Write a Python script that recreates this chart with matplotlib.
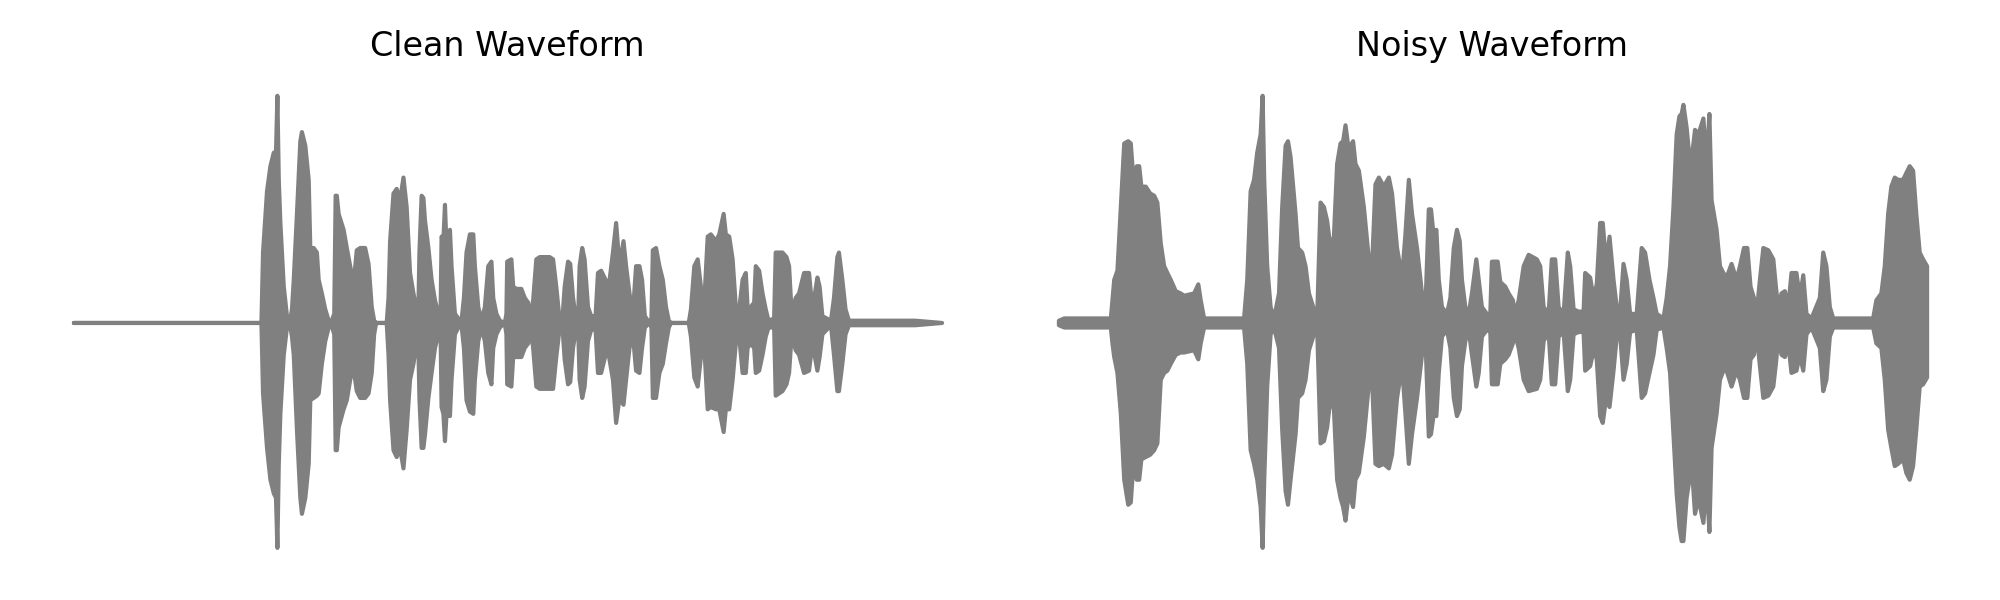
import matplotlib.pyplot as plt

# envelope of each waveform (time in s, upper / lower amplitude)
clean_t = [0.000, 0.940, 0.948, 0.968, 0.985, 1.002, 1.013, 1.020, 1.027, 1.035, 1.052, 1.068, 1.082,
           1.093, 1.102, 1.118, 1.135, 1.143, 1.160, 1.177, 1.185, 1.202, 1.218, 1.227, 1.243, 1.260, 1.277, 1.288,
           1.305, 1.312, 1.318, 1.327, 1.352, 1.368, 1.385, 1.395, 1.405, 1.418, 1.435, 1.460, 1.477, 1.493, 1.505, 1.515,
           1.568, 1.577, 1.585, 1.602, 1.618, 1.635, 1.652, 1.668, 1.685, 1.702, 1.718,
           1.727, 1.732, 1.743, 1.752, 1.760, 1.777, 1.793, 1.810, 1.827, 1.838,
           1.843, 1.852, 1.860, 1.868, 1.885, 1.893, 1.910, 1.927, 1.943,
           1.955, 1.968, 1.985, 2.002, 2.010, 2.027, 2.043,
           2.060, 2.077, 2.093, 2.102, 2.118, 2.135, 2.160,
           2.168, 2.172, 2.193, 2.202, 2.218, 2.243, 2.260, 2.277, 2.288,
           2.302, 2.318, 2.335, 2.385, 2.402, 2.418, 2.435, 2.450,
           2.460, 2.477, 2.488, 2.502, 2.518, 2.528,
           2.535, 2.548, 2.560, 2.577, 2.593, 2.615,
           2.627, 2.643, 2.665, 2.677, 2.702, 2.718, 2.735, 2.755, 2.768, 2.785, 2.802,
           2.818, 2.835, 2.848, 2.862, 2.885, 2.895,
           2.902, 2.918, 2.935, 2.952, 2.968, 2.982, 2.993,
           3.082, 3.093, 3.110, 3.127, 3.143, 3.158, 3.177, 3.193, 3.218, 3.235, 3.257, 3.268, 3.285, 3.302, 3.318, 3.335,
           3.352, 3.368, 3.377, 3.393, 3.410, 3.418, 3.435, 3.452, 3.468, 3.482, 3.510,
           3.518, 3.552, 3.572, 3.585, 3.598,
           3.618, 3.635, 3.660, 3.685, 3.702, 3.727, 3.738, 3.752, 3.795,
           3.810, 3.827, 3.835, 3.852, 3.868, 3.885, 3.968, 4.218, 4.352]
clean_hi = [0, 0, .31, .58, .69, .75, .75, 1.00, .63, .44, .16, .03, 0,
            .06, .19, .48, .80, .84, .78, .63, .33, .33, .31, .19, .13, .06, .01, 0,
            .04, .56, .56, .48, .41, .33, .25, .20, .20, .32, .33, .33, .26, .07, .01, 0,
            0, .11, .36, .57, .59, .54, .64, .51, .22, .13, .06,
            .07, .31, .56, .55, .45, .33, .19, .10, .04, .04,
            .38, .36, .52, .33, .41, .25, .04, .02, .01,
            .11, .31, .39, .39, .25, .07, .01,
            .07, .25, .27, .11, .04, .01, 0,
            .04, .27, .28, .16, .15, .15, .11, .09, .01,
            .10, .28, .29, .29, .28, .16, .01, .03,
            .16, .27, .26, .11, .01, .03,
            .25, .33, .28, .07, .03, .03,
            .22, .23, .19, .13, .31, .44, .25, .36, .25, .13, .04,
            .25, .25, .19, .03, 0, .02,
            .32, .33, .25, .19, .07, .01, 0,
            0, .06, .25, .28, .16, .06, .38, .39, .36, .39, .48, .39, .38, .28, .07, .06,
            .19, .22, .07, .07, .09, .25, .23, .13, .06, .01, .02,
            .31, .31, .29, .25, .04,
            .11, .13, .22, .22, .06, .20, .16, .03, .01,
            .11, .29, .31, .19, .06, .01, .01, .01, 0]
clean_lo = [0, 0, -.31, -.55, -.69, -.75, -.77, -.99, -.62, -.40, -.14, -.02, 0,
            -.06, -.14, -.47, -.77, -.84, -.77, -.62, -.34, -.33, -.32, -.31, -.18, -.08, -.02, 0,
            -.05, -.56, -.56, -.46, -.38, -.34, -.25, -.21, -.22, -.30, -.33, -.33, -.31, -.22, -.05, 0,
            0, -.14, -.34, -.56, -.59, -.55, -.64, -.47, -.25, -.18, -.09,
            -.11, -.33, -.55, -.55, -.49, -.33, -.22, -.11, -.05, -.04,
            -.37, -.40, -.52, -.40, -.41, -.25, -.05, -.02, -.01,
            -.11, -.34, -.39, -.40, -.25, -.08, -.02,
            -.08, -.22, -.27, -.11, -.05, -.02, 0,
            -.05, -.27, -.28, -.15, -.15, -.15, -.11, -.09, -.02,
            -.11, -.28, -.29, -.29, -.29, -.15, -.02, -.03,
            -.16, -.27, -.26, -.11, -.02, -.03,
            -.25, -.33, -.28, -.08, -.03, -.03,
            -.22, -.22, -.14, -.12, -.25, -.44, -.33, -.36, -.25, -.11, -.05,
            -.21, -.22, -.11, -.02, 0, -.02,
            -.33, -.33, -.22, -.18, -.09, -.02, 0,
            0, -.06, -.24, -.28, -.15, -.07, -.38, -.37, -.38, -.38, -.48, -.38, -.38, -.25, -.09, -.06,
            -.22, -.22, -.11, -.09, -.11, -.22, -.21, -.14, -.06, -.02, -.02,
            -.32, -.30, -.27, -.22, -.05,
            -.12, -.14, -.22, -.21, -.09, -.21, -.15, -.05, -.01,
            -.14, -.30, -.30, -.18, -.05, -.01, -.01, -.01, 0]

noisy_t = [0.000, 0.027, 0.260, 0.268, 0.277, 0.293, 0.310, 0.327, 0.347, 0.360, 0.373, 0.390, 0.402, 0.413,
           0.435, 0.457, 0.477, 0.493, 0.510, 0.527, 0.543, 0.560, 0.585, 0.610, 0.627, 0.677, 0.698, 0.710, 0.727,
           0.927, 0.943, 0.960, 0.977, 0.993, 1.010, 1.020, 1.028, 1.043, 1.060, 1.077,
           1.102, 1.118, 1.135, 1.147, 1.160, 1.185, 1.197, 1.218, 1.235, 1.252, 1.277, 1.293,
           1.310, 1.327, 1.343, 1.360, 1.377, 1.393, 1.410, 1.423, 1.435, 1.447, 1.460, 1.473, 1.485, 1.502, 1.527,
           1.552, 1.568, 1.585, 1.602, 1.627, 1.652, 1.668, 1.693, 1.718, 1.735, 1.752, 1.768, 1.793, 1.818, 1.835,
           1.852, 1.863, 1.877, 1.890, 1.902, 1.918, 1.943,
           1.960, 1.977, 1.993, 2.007, 2.018, 2.035, 2.052,
           2.068, 2.090, 2.102, 2.118, 2.143, 2.160,
           2.168, 2.197, 2.210, 2.235, 2.252, 2.273, 2.285,
           2.302, 2.327, 2.352, 2.393, 2.410, 2.427, 2.452,
           2.468, 2.485, 2.502, 2.527, 2.548, 2.560, 2.577, 2.602, 2.627,
           2.635, 2.660, 2.677, 2.693, 2.710, 2.723, 2.740, 2.757, 2.777, 2.793, 2.810,
           2.827, 2.843, 2.860, 2.893, 2.918, 2.935, 2.957, 2.977, 2.993, 3.027,
           3.043, 3.060, 3.077, 3.093, 3.107, 3.118, 3.127, 3.143, 3.157, 3.168, 3.185, 3.202, 3.227, 3.243, 3.257,
           3.268, 3.293, 3.310, 3.327, 3.343, 3.368, 3.393, 3.410, 3.430, 3.447, 3.463, 3.480, 3.493,
           3.510, 3.527, 3.552, 3.577, 3.590, 3.602, 3.618, 3.635, 3.652, 3.668, 3.693, 3.710, 3.727, 3.743, 3.768,
           3.810, 3.827, 3.843, 3.860, 3.877, 4.077,
           4.093, 4.118, 4.135, 4.152, 4.168, 4.185, 4.202, 4.227, 4.243, 4.260, 4.277, 4.293, 4.310, 4.327, 4.347]
noisy_hi = [.01, .02, .02, .10, .19, .23, .51, .79, .80, .79, .63, .69, .69, .60,
            .60, .57, .56, .53, .35, .25, .22, .19, .14, .13, .12, .13, .17, .10, .02,
            .02, .19, .58, .63, .75, .83, 1.00, .63, .25, .07, .02,
            .13, .51, .78, .80, .73, .48, .33, .31, .25, .13, .06, .02,
            .53, .51, .45, .33, .38, .70, .79, .80, .87, .79, .78, .80, .70, .67, .51,
            .28, .25, .61, .64, .60, .64, .57, .33, .20, .39, .63, .48, .33, .13, .06,
            .50, .50, .38, .41, .19, .07, .04,
            .11, .33, .41, .36, .19, .07, .04,
            .13, .28, .19, .07, .04, .04,
            .27, .27, .18, .16, .13, .10, .04,
            .10, .25, .30, .28, .25, .07, .04,
            .28, .28, .07, .04, .31, .25, .06, .05, .05,
            .22, .20, .11, .17, .44, .44, .26, .38, .19, .07, .05,
            .26, .19, .04, .04, .33, .31, .19, .11, .04, .02,
            .11, .25, .51, .83, .91, .92, .96, .86, .73, .72, .85, .83, .90, .70, .92,
            .54, .41, .25, .22, .20, .26, .19, .25, .33, .33, .16, .11, .04,
            .19, .33, .32, .28, .16, .06, .13, .14, .07, .22, .22, .11, .21, .04, .02,
            .11, .31, .25, .07, .02, .02,
            .10, .13, .25, .48, .60, .64, .63, .63, .66, .69, .67, .48, .31, .28, .25]
noisy_lo = [-.01, -.02, -.02, -.09, -.15, -.22, -.40, -.69, -.80, -.79, -.62, -.69, -.69, -.60,
            -.59, -.58, -.56, -.53, -.25, -.22, -.21, -.18, -.14, -.13, -.13, -.12, -.16, -.09, -.02,
            -.02, -.18, -.56, -.62, -.69, -.81, -.99, -.69, -.28, -.05, -.02,
            -.11, -.47, -.74, -.80, -.69, -.49, -.33, -.31, -.25, -.12, -.05, -.02,
            -.53, -.52, -.46, -.33, -.38, -.69, -.77, -.81, -.87, -.78, -.77, -.81, -.69, -.66, -.50,
            -.27, -.25, -.62, -.63, -.62, -.64, -.58, -.33, -.19, -.40, -.62, -.49, -.33, -.14, -.06,
            -.50, -.49, -.40, -.41, -.22, -.06, -.03,
            -.11, -.33, -.41, -.38, -.19, -.08, -.03,
            -.14, -.28, -.22, -.06, -.03, -.04,
            -.27, -.27, -.18, -.16, -.14, -.09, -.05,
            -.11, -.25, -.30, -.29, -.25, -.08, -.04,
            -.27, -.27, -.06, -.04, -.30, -.25, -.05, -.04, -.04,
            -.21, -.19, -.12, -.16, -.41, -.44, -.33, -.37, -.21, -.06, -.05,
            -.25, -.18, -.04, -.03, -.33, -.31, -.22, -.14, -.03, -.02,
            -.11, -.22, -.49, -.75, -.90, -.96, -.96, -.77, -.69, -.62, -.84, -.77, -.88, -.69, -.92,
            -.55, -.40, -.25, -.21, -.21, -.28, -.21, -.25, -.33, -.33, -.16, -.14, -.04,
            -.19, -.33, -.32, -.28, -.18, -.06, -.14, -.15, -.09, -.22, -.21, -.14, -.21, -.05, -.02,
            -.11, -.30, -.25, -.06, -.02, -.02,
            -.09, -.11, -.25, -.47, -.55, -.63, -.62, -.60, -.66, -.69, -.63, -.47, -.28, -.27, -.24]

titles = ["Clean Waveform", "Noisy Waveform"]

fig, axes = plt.subplots(1, 2, figsize=(10, 3), dpi=200)

for ax, title, t, hi, lo in zip(axes, titles,
                                [clean_t, noisy_t], [clean_hi, noisy_hi], [clean_lo, noisy_lo]):
    ax.fill_between(t, lo, hi, color='gray', linewidth=1.5)
    ax.set_title(title)
    ax.axis('off')

plt.tight_layout()
plt.savefig('out.png')
